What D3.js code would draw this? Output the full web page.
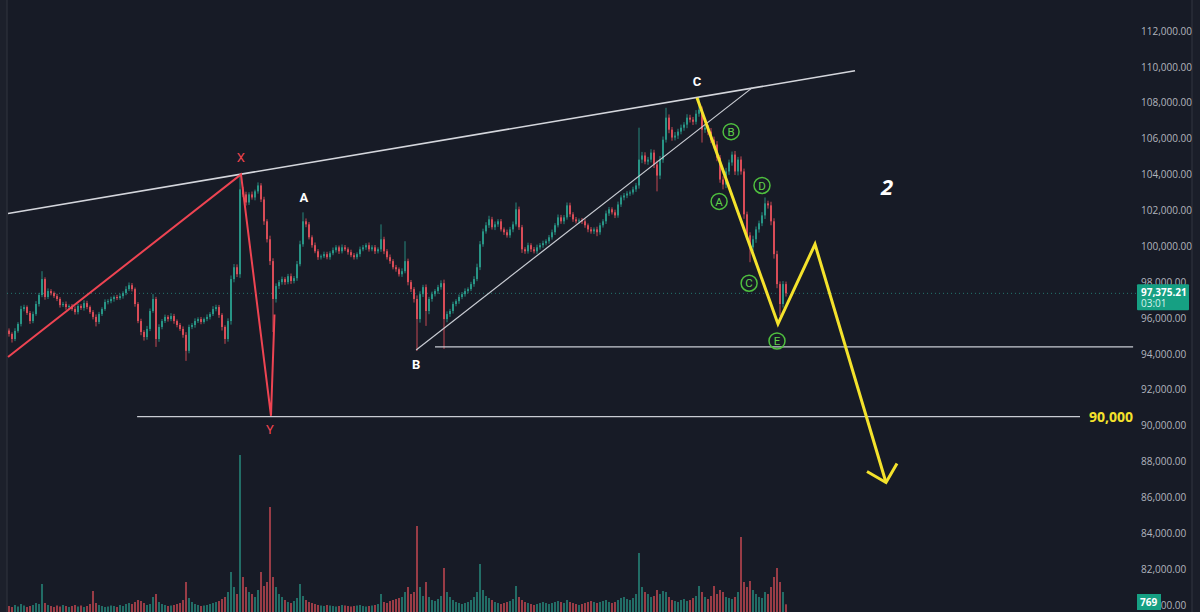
<!DOCTYPE html>
<html><head><meta charset="utf-8">
<script src="https://cdn.jsdelivr.net/npm/d3@7"></script>
<style>html,body{margin:0;padding:0;background:#171b26;overflow:hidden}</style>
</head><body>
<svg id="chart" width="1200" height="612"></svg>
<script>
// ---- DATA (prices in thousands of USD) ----
const firstOpen = 95.30;
const closes = [
95.11,94.83,95.28,95.67,96.50,96.61,96.28,95.83,96.22,96.78,97.28,98.17,97.17,97.50,97.39,97.22,97.06,96.72,96.78,96.61,
96.67,96.50,96.33,96.67,96.56,96.83,96.61,96.33,96.06,95.78,96.22,96.50,96.89,96.94,97.06,97.17,97.11,97.22,97.39,97.61,
97.83,97.61,96.78,95.83,95.22,94.94,95.39,96.39,97.06,94.83,95.50,95.83,96.06,95.94,96.11,95.83,95.61,95.39,95.06,94.17,
95.50,95.61,95.83,95.94,95.78,95.94,96.06,96.22,96.50,96.61,96.17,95.50,94.83,95.83,98.17,98.83,98.44,103.17,102.89,102.44,
102.89,102.72,103.06,103.39,102.61,101.39,100.39,99.17,97.06,97.78,98.00,98.17,98.00,98.33,98.06,98.22,99.00,100.11,101.39,101.22,
100.50,100.06,99.72,99.39,99.44,99.56,99.39,99.61,99.78,99.94,99.72,99.94,99.83,99.67,99.50,99.39,99.56,99.83,99.94,100.06,
99.83,99.94,99.72,99.83,100.39,99.72,99.39,99.17,98.83,98.72,98.44,98.61,99.17,98.00,97.61,97.06,95.94,97.33,97.72,96.39,
97.06,97.33,97.50,97.72,97.94,95.94,96.22,96.39,96.78,96.94,97.17,97.33,97.50,97.61,97.89,98.17,98.83,100.11,100.83,101.17,
101.50,101.06,101.22,101.39,100.94,100.78,100.61,100.94,101.22,102.06,101.06,99.83,99.72,100.06,99.83,99.72,99.94,100.06,100.17,100.28,
100.50,100.78,101.17,101.61,101.39,101.61,102.28,101.78,101.50,101.39,101.44,101.39,101.17,100.94,100.83,100.94,100.78,101.17,101.39,101.83,
102.06,101.89,101.72,102.33,102.72,102.83,102.94,103.00,103.17,103.39,104.83,105.06,104.72,104.83,105.22,104.56,103.94,104.83,105.94,107.17,
106.50,106.06,106.17,106.39,106.61,106.78,107.17,107.06,106.94,107.39,107.61,106.50,106.61,106.39,105.94,105.67,104.94,103.72,103.44,104.17,
104.67,105.11,104.17,104.83,104.17,101.78,100.61,99.94,100.39,100.94,101.28,101.72,102.39,102.28,101.39,99.56,97.89,96.78,97.89,97.375
];
// wick extents beyond the candle body, in USD
const wickUp = [
120,90,150,100,180,130,90,110,140,160,120,440,100,150,110,90,130,100,120,140,
90,110,150,120,100,160,130,90,110,140,120,100,150,110,130,90,120,140,100,160,
150,120,90,110,130,100,170,140,270,120,150,110,130,100,160,120,90,110,140,150,
130,110,150,100,120,90,140,110,160,130,120,100,90,150,200,180,160,830,140,150,
120,160,100,170,130,150,120,200,160,150,120,140,110,130,150,120,180,200,500,160,
130,110,150,120,100,140,130,110,150,120,100,160,130,110,140,120,100,150,130,110,
150,120,130,110,830,140,120,150,110,130,100,160,1110,140,120,110,200,160,130,150,
120,140,110,130,160,200,150,120,130,110,140,120,150,100,130,160,200,180,150,170,
200,140,160,120,130,110,150,140,160,380,150,130,120,140,110,130,150,120,140,110,
130,150,120,160,140,130,160,150,120,130,110,140,120,100,130,110,150,140,120,160,
130,110,150,160,120,140,130,110,150,140,1780,200,180,150,190,160,220,200,180,550,
180,150,200,160,170,140,190,160,150,200,650,180,160,150,200,170,190,150,180,200,
160,170,200,150,180,160,150,170,200,160,150,180,330,150,200,170,190,150,170,140
];
const wickDown = [
150,200,120,100,140,130,110,160,120,100,140,120,150,110,130,100,120,140,110,150,
120,100,140,130,110,150,120,100,140,250,120,110,100,130,120,150,110,100,140,120,
110,130,150,120,180,200,150,120,100,440,160,130,110,140,120,150,130,110,160,560,
140,120,150,110,130,100,120,140,110,130,160,200,270,150,200,180,160,200,150,170,
140,120,160,130,150,200,180,220,1840,200,160,140,150,120,160,130,150,120,140,160,
120,140,110,150,130,100,120,140,110,130,150,120,100,140,110,130,120,150,110,140,
130,110,150,120,140,160,130,150,120,140,130,150,120,180,160,200,1770,200,160,830,
180,150,130,160,140,1660,180,160,140,130,150,120,140,130,110,150,120,160,140,130,
150,130,160,140,120,150,130,140,160,120,150,200,140,130,150,120,140,130,150,120,
140,130,150,120,140,160,130,150,140,120,130,150,140,160,130,150,220,140,130,150,
140,120,150,130,140,160,150,130,120,140,180,200,150,180,160,200,880,200,180,160,
200,180,160,190,150,170,200,160,180,150,170,720,180,200,190,220,200,180,270,200,
190,180,200,220,180,250,200,830,220,200,180,160,200,180,220,250,230,670,200,180
];
const volumes = [
600,500,700,550,800,650,500,600,700,900,800,2800,900,700,600,500,650,550,700,600,
500,600,700,550,650,500,600,800,2100,900,700,600,500,550,650,600,500,700,600,800,
900,800,1000,1200,1100,900,700,800,1500,1800,1000,800,700,600,650,700,800,900,1200,3000,
1400,1000,800,700,600,650,700,800,900,1000,1100,1300,1500,2000,4000,2500,1800,15700,3500,2500,
2000,1800,1500,2200,4000,2600,3000,10500,3500,2500,1800,1500,1200,1000,900,1100,1400,2800,1600,1200,
1000,900,800,700,650,600,700,650,600,550,600,700,650,600,550,600,650,700,600,550,
600,650,700,800,1800,1000,900,1100,1200,1300,1400,1500,2000,2500,1800,2000,8600,2500,1600,3000,
1500,1200,1100,1300,1600,4400,2000,1500,1200,1000,900,800,900,1000,1200,1500,2000,4800,2200,1600,
1400,1200,1000,900,800,900,1000,1100,1300,2600,1500,1200,1000,900,800,700,800,900,1000,900,
800,900,1000,1100,1000,900,1200,1000,900,800,700,800,900,1000,1100,1000,900,1000,1100,1200,
1000,900,1000,1200,1400,1500,1300,1200,1400,1800,5900,2500,2000,1800,1500,1600,2200,1800,2100,2000,
1500,1200,1100,1000,1200,1300,1100,1200,1400,1600,2600,2000,1500,1300,1600,2600,1800,2200,2000,1500,
1400,1300,1500,2000,7500,3000,2500,3100,2200,1800,1500,1400,2000,1800,2500,3500,4400,3000,2000,769
];
const priceTicks = [80,82,84,86,88,90,92,94,96,98,100,102,104,106,108,110,112];
const lastPrice = 97.37521;
const lastPriceText = "97,375.21";
const countdownText = "03:01";
const lastVolumeText = "769";

// annotations: [candle index, price(k)]
const upperTrend = [[-0.33,101.83],[282,109.78]];
const channelLine = [[135.7,94.22],[247.7,108.83]];
const support94 = [[142,94.39],[374.7,94.39]];
const support90 = [[42.7,90.5],[357,90.5]];
const redPath = [[-0.33,93.83],[77.33,104.0],[87.33,90.55],[88.5,96.2]];
const yellowPath = [[229.33,108.28],[256.33,95.67],[268.67,100.11],[292.33,86.83]];
const yellowHead = [[286,87.44],[292.33,86.83],[296,87.89]];
const waveLabels = [
  {t:"X", i:77.3, p:104.94, c:"#f0444f"},
  {t:"Y", i:87.0, p:89.78, c:"#f0444f"},
  {t:"A", i:98.3, p:102.72, c:"#ffffff"},
  {t:"B", i:135.7, p:93.39, c:"#ffffff"},
  {t:"C", i:229.3, p:109.17, c:"#ffffff"}
];
const circleLabels = [
  {t:"A", i:236.7, p:102.5},
  {t:"B", i:240.7, p:106.39},
  {t:"C", i:246.7, p:97.94},
  {t:"D", i:251.0, p:103.39},
  {t:"E", i:256.0, p:94.72}
];
const bigLabel = {t:"2", i:292.7, p:103.28};
const levelLabel = {t:"90,000", i:374.7, p:90.5};

// ---- SCALES ----
const svg = d3.select("#chart");
const W = 1200, H = 612;
const plotLeft = 7, plotRight = 1137, axisRight = 1192;
const x = d3.scaleLinear().domain([0, closes.length-1]).range([9, 786]);
const y = d3.scaleLinear().domain([80, 112]).range([605, 31]);
const vy = d3.scaleLinear().domain([0, 17200]).range([612, 440]);
const UP = "#2a9d8c", DOWN = "#e5505a";

const candles = closes.map((c,i)=>{
  const o = i===0 ? firstOpen : closes[i-1];
  return {i, o, c, h: Math.max(o,c)+wickUp[i]/1000, l: Math.min(o,c)-wickDown[i]/1000, v: volumes[i]};
});

// background
svg.append("rect").attr("width",W).attr("height",H).attr("fill","#171b26");
svg.append("rect").attr("x",0).attr("width",plotLeft).attr("height",H).attr("fill","#1c202b");
svg.append("line").attr("x1",plotLeft).attr("x2",plotLeft).attr("y1",0).attr("y2",H).attr("stroke","#2a2e39").attr("stroke-width",1.5);
svg.append("rect").attr("x",axisRight).attr("width",W-axisRight).attr("height",H).attr("fill","#1a1e29");
svg.append("line").attr("x1",axisRight).attr("x2",axisRight).attr("y1",0).attr("y2",H).attr("stroke","#2a2e39").attr("stroke-width",1.5);

// volume
svg.append("g").selectAll("rect").data(candles).join("rect")
  .attr("x", d=>x(d.i)-0.9).attr("width",1.8)
  .attr("y", d=>vy(d.v)).attr("height", d=>vy(0)-vy(d.v))
  .attr("fill", d=>d.c>=d.o?UP:DOWN).attr("opacity",0.7);

// last price dotted line
svg.append("line").attr("x1",plotLeft).attr("x2",plotRight)
  .attr("y1",y(lastPrice)).attr("y2",y(lastPrice))
  .attr("stroke","#2a9d8c").attr("stroke-width",1).attr("stroke-dasharray","1,3").attr("opacity",0.7);

// candles
const cg = svg.append("g");
cg.selectAll("line").data(candles).join("line")
  .attr("x1",d=>x(d.i)).attr("x2",d=>x(d.i))
  .attr("y1",d=>y(d.h)).attr("y2",d=>y(d.l))
  .attr("stroke",d=>d.c>=d.o?UP:DOWN).attr("stroke-width",1).attr("opacity",0.85);
cg.selectAll("rect").data(candles).join("rect")
  .attr("x",d=>x(d.i)-0.9).attr("width",1.8)
  .attr("y",d=>y(Math.max(d.o,d.c)))
  .attr("height",d=>Math.max(1, Math.abs(y(d.o)-y(d.c))))
  .attr("fill",d=>d.c>=d.o?UP:DOWN);

// annotation lines
const line = d3.line().x(d=>x(d[0])).y(d=>y(d[1]));
const ag = svg.append("g").attr("fill","none");
ag.append("path").attr("d",line(support94)).attr("stroke","#c9ccd3").attr("stroke-width",1.4);
ag.append("path").attr("d",line(support90)).attr("stroke","#c9ccd3").attr("stroke-width",1.4);
ag.append("path").attr("d",line(upperTrend)).attr("stroke","#d4d6dc").attr("stroke-width",1.6);
ag.append("path").attr("d",line(channelLine)).attr("stroke","#c9ccd3").attr("stroke-width",1.2);
ag.append("path").attr("d",line(redPath)).attr("stroke","#ee4452").attr("stroke-width",2).attr("stroke-linejoin","miter");
ag.append("path").attr("d",line(yellowPath)).attr("stroke","#f4e22c").attr("stroke-width",3).attr("stroke-linejoin","miter");
ag.append("path").attr("d",line(yellowHead)).attr("stroke","#f4e22c").attr("stroke-width",3);

// wave labels
svg.append("g").selectAll("text").data(waveLabels).join("text")
  .attr("x",d=>x(d.i)).attr("y",d=>y(d.p)).attr("dy","0.35em")
  .attr("text-anchor","middle").attr("fill",d=>d.c)
  .attr("font-family","Roboto, 'Open Sans', sans-serif")
  .attr("font-weight",d=>d.c==="#ffffff"?"bold":"normal").attr("font-size",13)
  .text(d=>d.t);

const clg = svg.append("g").selectAll("g").data(circleLabels).join("g")
  .attr("transform",d=>`translate(${x(d.i)},${y(d.p)})`);
clg.append("circle").attr("r",8).attr("fill","none").attr("stroke","#4fbf3f").attr("stroke-width",1.5);
clg.append("text").attr("text-anchor","middle").attr("dy","0.36em").attr("fill","#5fd14a")
  .attr("font-family","Roboto, sans-serif").attr("font-size",11.5).text(d=>d.t);

svg.append("text").attr("x",x(bigLabel.i)).attr("y",y(bigLabel.p)).attr("dy","0.35em")
  .attr("text-anchor","middle").attr("fill","#ffffff").attr("font-family","'Open Sans', sans-serif")
  .attr("font-weight","bold").attr("font-style","italic").attr("font-size",22).text(bigLabel.t);

svg.append("text").attr("x",x(levelLabel.i)).attr("y",y(levelLabel.p)).attr("dy","0.35em")
  .attr("text-anchor","end").attr("fill","#f4e22c").attr("font-family","'Open Sans', sans-serif")
  .attr("font-weight","bold").attr("font-size",14).text(levelLabel.t);

// price axis
const axis = d3.axisRight(y).tickValues(priceTicks).tickSize(0).tickPadding(0)
  .tickFormat(d=>d3.format(",.2f")(d*1000));
const ax = svg.append("g").attr("transform",`translate(${plotRight+4},0)`).call(axis);
ax.select(".domain").remove();
ax.selectAll("text").attr("fill","#b2b5be").attr("font-family","'Open Sans', sans-serif").attr("font-size",10);

// last price box
const ly = y(lastPrice);
svg.append("rect").attr("x",plotRight).attr("y",ly-9).attr("width",52).attr("height",26).attr("fill","#16a083").attr("rx",1);
svg.append("text").attr("x",plotRight+4).attr("y",ly-1).attr("dy","0.35em").attr("fill","#ffffff")
  .attr("font-family","'Open Sans', sans-serif").attr("font-weight","bold").attr("font-size",10).text(lastPriceText);
svg.append("text").attr("x",plotRight+4).attr("y",ly+10).attr("dy","0.35em").attr("fill","#d8f2ec")
  .attr("font-family","'Open Sans', sans-serif").attr("font-size",10).text(countdownText);

// last volume box
svg.append("rect").attr("x",plotRight).attr("y",H-18).attr("width",24).attr("height",16).attr("fill","#16a083");
svg.append("text").attr("x",plotRight+3).attr("y",H-10).attr("dy","0.35em").attr("fill","#ffffff")
  .attr("font-family","'Open Sans', sans-serif").attr("font-weight","bold").attr("font-size",10).text(lastVolumeText);
</script>
</body></html>
